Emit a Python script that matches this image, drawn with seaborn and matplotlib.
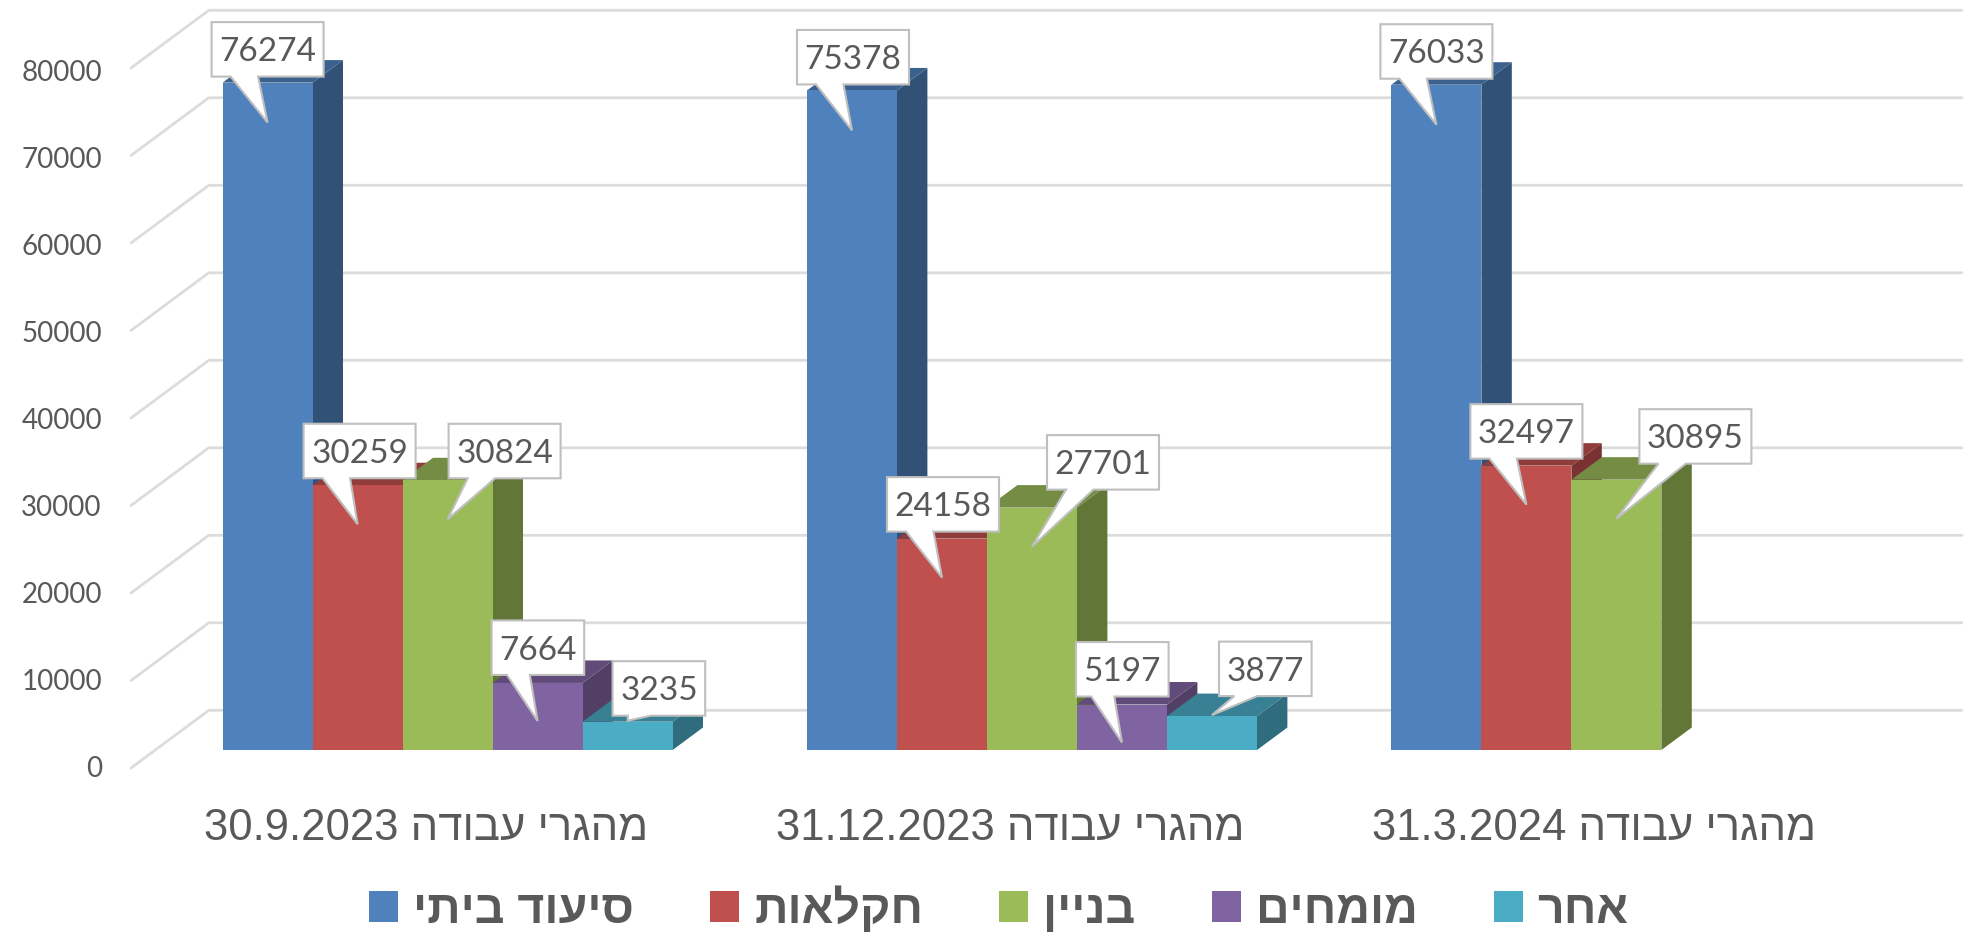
"""Foreign workers by sector, drawn as pseudo-3D clustered bars."""

import matplotlib

matplotlib.use("Agg")

import matplotlib.pyplot as plt
import numpy as np
import pandas as pd
import seaborn as sns
from matplotlib.patches import Patch, Polygon
from matplotlib.transforms import ScaledTranslation

# data
DATES = ["30.9.2023", "31.12.2023", "31.3.2024"]
CATEGORY_PREFIX = "מהגרי עבודה"
SERIES = ["סיעוד ביתי", "חקלאות", "בניין", "מומחים", "אחר"]
HOME_CARE = [76274, 75378, 76033]
AGRICULTURE = [30259, 24158, 32497]
CONSTRUCTION = [30824, 27701, 30895]
EXPERTS = [7664, 5197, np.nan]
OTHER = [3235, 3877, np.nan]
Y_TICKS = list(range(0, 90000, 10000))

# style
COLORS = ["#4F81BD", "#C0504D", "#9BBB59", "#8064A2", "#4BACC6"]
TEXT_COLOR = "#595959"
GRID_COLOR = "#DCDCDC"
BOX_EDGE = "#BFBFBF"

# layout, in pixels of the 1972x943 picture
WIDTH, HEIGHT, DPI = 1972, 943, 100
BASE_Y = 750
FLOOR_Y = 768
AXES_LEFT = 131
WALL_X = 208.8
GRID_END = 1962
FLOOR_DROP = 18
WALL_RISE = 39.7
FIRST_CENTER = 447.6
GROUP_STEP = 584.4
UNIT = 87.5 / 10000
DEPTH_X, DEPTH_Y = 30.4, 22.5
BOX_HEIGHT = 54.5

# callout box: left edge relative to the tip, box bottom above the tip
BOX_SHIFT = [
    [(-56, 46), (-55, 46), (-56, 46)],
    [(-54, 46), (-55, 46), (-56, 46)],
    [(1, 41), (15, 57), (23, 55)],
    [(-46, 46), (-46, 46), None],
    [(-15, 5), (7, 19), None],
]
TIP_DROP = [40, 39, 39, 38, -1]


def visual(text):
    """matplotlib lays text out left to right, so Hebrew has to be reversed."""
    return text[::-1]


def px_x(px):
    return (px - FIRST_CENTER) / GROUP_STEP


def px_y(py):
    return (BASE_Y - py) / UNIT


rows = []
for name, values in zip(SERIES, [HOME_CARE, AGRICULTURE, CONSTRUCTION, EXPERTS, OTHER]):
    for date, value in zip(DATES, values):
        rows.append({"date": date, "series": name, "value": value})
frame = pd.DataFrame(rows).dropna()

sns.set_theme(style="white")
plt.rcParams["font.family"] = ["Liberation Sans", "DejaVu Sans"]

fig = plt.figure(figsize=(WIDTH / DPI, HEIGHT / DPI), dpi=DPI)
ax = fig.add_axes(
    [AXES_LEFT / WIDTH, (HEIGHT - FLOOR_Y) / HEIGHT, 1 - AXES_LEFT / WIDTH, FLOOR_Y / HEIGHT]
)

sns.barplot(
    data=frame,
    x="date",
    y="value",
    hue="series",
    order=DATES,
    hue_order=SERIES,
    palette=COLORS,
    width=0.77,
    gap=0,
    saturation=1,
    legend=False,
    ax=ax,
)
ax.set_xlim(px_x(AXES_LEFT), px_x(WIDTH))
ax.set_ylim(px_y(FLOOR_Y), px_y(0))
sns.despine(ax=ax, left=True, bottom=True)
ax.set_xlabel("")
ax.set_ylabel("")

# back wall and floor lines
for tick in Y_TICKS:
    ax.plot(
        [px_x(AXES_LEFT), px_x(WALL_X), px_x(GRID_END)],
        [tick - FLOOR_DROP / UNIT, tick + WALL_RISE / UNIT, tick + WALL_RISE / UNIT],
        color=GRID_COLOR,
        lw=2,
        zorder=1,
        clip_on=False,
        solid_joinstyle="round",
    )

dx = DEPTH_X / GROUP_STEP
dy = DEPTH_Y / UNIT
callouts = []
for s_idx, container in enumerate(ax.containers):
    color = np.array(matplotlib.colors.to_rgb(COLORS[s_idx]))
    for bar in container:
        left, width, top = bar.get_x(), bar.get_width(), bar.get_height()
        if np.isnan(top):
            continue
        right = left + width
        order = 3 + round(left * 100) * 0.001
        ax.add_patch(
            Polygon(
                [(right, 0), (right + dx, dy), (right + dx, top + dy), (right, top)],
                facecolor=color * 0.63,
                edgecolor="none",
                zorder=order,
            )
        )
        ax.add_patch(
            Polygon(
                [(left, top), (left + dx, top + dy), (right + dx, top + dy), (right, top)],
                facecolor=color * 0.75,
                edgecolor="none",
                zorder=order,
            )
        )
        bar.set_zorder(order + 0.0005)
        bar.set_edgecolor("none")
        d_idx = round(left + width / 2)
        callouts.append((s_idx, d_idx, left + width / 2, top))

# value callouts
for s_idx, d_idx, center, top in callouts:
    shift_x, rise = BOX_SHIFT[s_idx][d_idx]
    label = str(int(top))
    box_width = 112 if len(label) == 5 else 92.6
    base_a, base_b = (19, 46.5) if len(label) == 5 else (15.3, 38.3)
    tip_x = center
    tip_y = top - TIP_DROP[s_idx] / UNIT
    bottom = tip_y + rise / UNIT
    upper = bottom + BOX_HEIGHT / UNIT
    box_left = tip_x + shift_x / GROUP_STEP
    box_right = box_left + box_width / GROUP_STEP
    ax.add_patch(
        Polygon(
            [
                (box_left, bottom),
                (box_left, upper),
                (box_right, upper),
                (box_right, bottom),
                (box_left + base_b / GROUP_STEP, bottom),
                (tip_x, tip_y),
                (box_left + base_a / GROUP_STEP, bottom),
            ],
            facecolor="white",
            edgecolor=BOX_EDGE,
            lw=1.5,
            zorder=10,
            joinstyle="miter",
        )
    )
    ax.text(
        (box_left + box_right) / 2,
        (bottom + upper) / 2,
        label,
        ha="center",
        va="center_baseline",
        fontsize=24,
        family=["Lato", "DejaVu Sans"],
        color=TEXT_COLOR,
        zorder=11,
    )

# axis labels
ax.set_yticks(Y_TICKS)
ax.set_xticks(range(len(DATES)))
ax.set_xticklabels([f"{date} {visual(CATEGORY_PREFIX)}" for date in DATES])
ax.tick_params(axis="y", length=0, pad=21, labelsize=20, labelcolor=TEXT_COLOR)
ax.tick_params(axis="x", length=0, pad=29, labelsize=31.4, labelcolor=TEXT_COLOR)
for tick, text in zip(Y_TICKS, ax.get_yticklabels()):
    text.set_family(["Lato", "DejaVu Sans"])
    # the labels sit a little closer together than the wall lines
    drop = 16.7 + 4.3 * tick / Y_TICKS[-1]
    text.set_transform(
        text.get_transform() + ScaledTranslation(0, -drop / DPI, fig.dpi_scale_trans)
    )
for text in ax.get_xticklabels():
    text.set_transform(
        text.get_transform() + ScaledTranslation(-22 / DPI, 0, fig.dpi_scale_trans)
    )

# legend
legend_px = 46.5
handles = [Patch(facecolor=color, edgecolor="none") for color in COLORS]
legend = fig.legend(
    handles,
    [visual(name) for name in SERIES],
    loc="center",
    bbox_to_anchor=(999 / WIDTH, (HEIGHT - 910) / HEIGHT),
    ncols=len(SERIES),
    frameon=False,
    prop={"family": "Liberation Sans", "weight": "bold", "size": legend_px * 72 / DPI},
    handlelength=29 / legend_px,
    handleheight=30 / legend_px,
    handletextpad=15 / legend_px,
    columnspacing=76 / legend_px,
    labelcolor=TEXT_COLOR,
    borderpad=0,
    borderaxespad=0,
)

fig.savefig("out.png", dpi=DPI)
plt.close(fig)
